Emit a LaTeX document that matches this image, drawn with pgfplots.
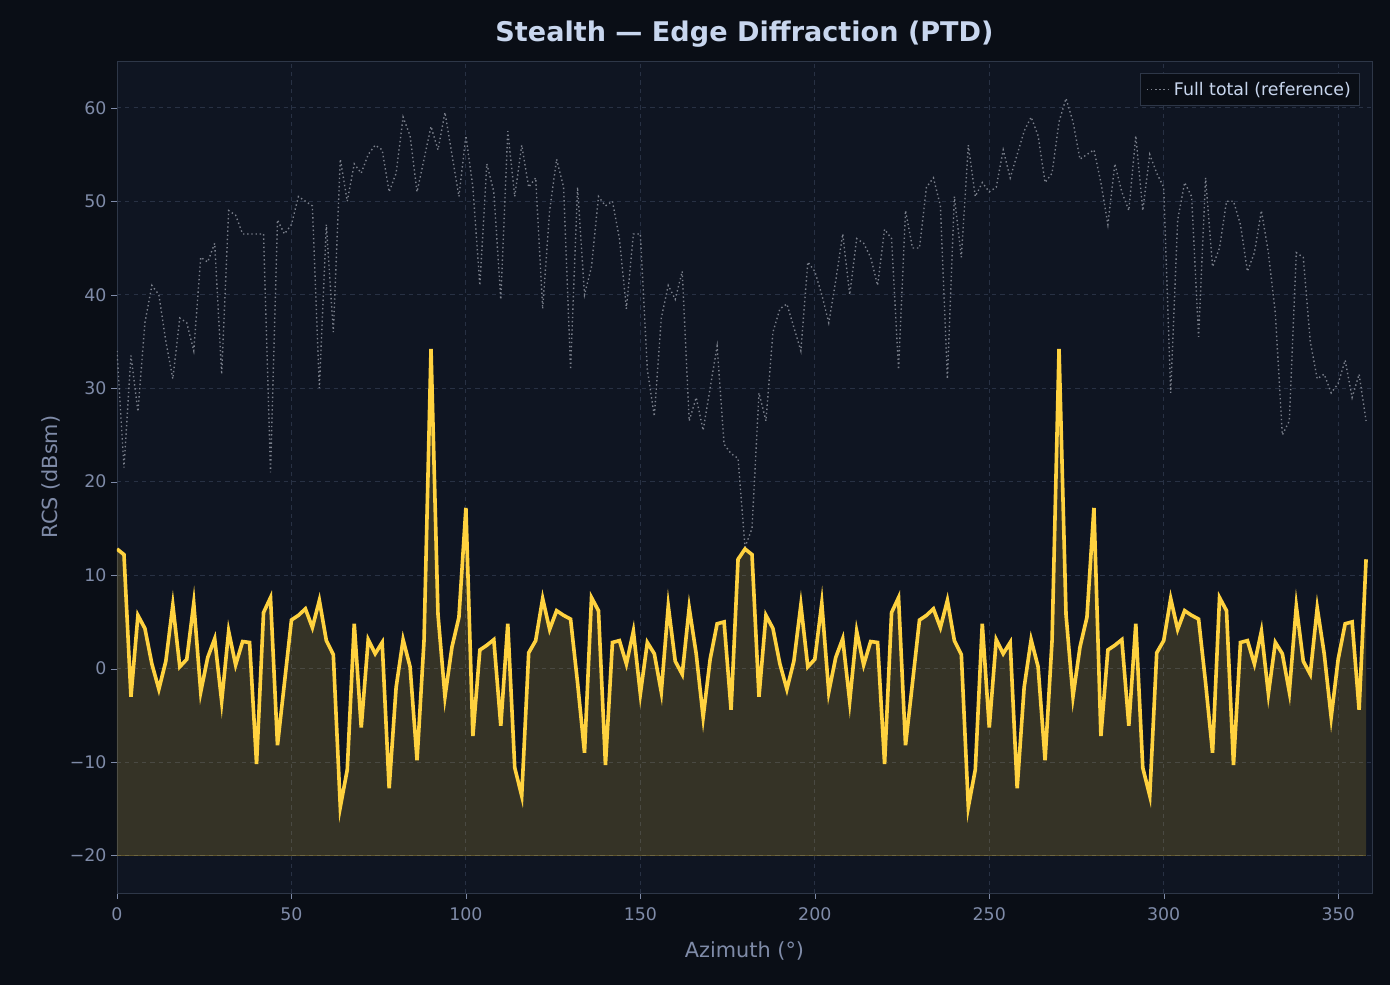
\documentclass[border=0pt]{standalone}
\usepackage{pgfplots}
\pgfplotsset{compat=1.18}
\usepgfplotslibrary{fillbetween}
\usepackage{fontspec}
\setmainfont{DejaVu Sans}
\definecolor{figbg}{HTML}{0A0E16}
\definecolor{axbg}{HTML}{0F1522}
\definecolor{yel}{HTML}{FFD23F}
\definecolor{gridc}{HTML}{283144}
\definecolor{spinec}{HTML}{2E3748}
\definecolor{tickc}{HTML}{7F8BA8}
\definecolor{titc}{HTML}{C8D6EE}
\definecolor{refc}{HTML}{7C818D}
\pagecolor{figbg}
\begin{document}
\begin{tikzpicture}
\path (-84.24pt,-66.24pt) rectangle (916.56pt,642.96pt);
\begin{axis}[
  at={(0,0)}, anchor=south west, scale only axis,
  width=903.6pt, height=599.04pt,
  xmin=0, xmax=359.7, ymin=-24, ymax=65,
  axis background/.style={fill=axbg},
  axis line style={draw=spinec},
  xtick={0,50,...,350}, ytick={-20,-10,...,60},
  yticklabels={−20,−10,0,10,20,30,40,50,60},
  tick pos=left,
  tick style={draw=tickc}, tick align=outside,
  major tick length=4pt,
  ticklabel style={font=\fontsize{12.5}{14}\selectfont, text=tickc},
  xticklabel style={yshift=-3pt},
  /pgf/number format/assume math mode=true,
  grid=major, grid style={dashed, draw=gridc, line width=0.7pt},
  xlabel={Azimuth (°)}, ylabel={RCS (dBsm)},
  xlabel style={yshift=-8pt},
  label style={font=\fontsize{15}{17}\selectfont, text=tickc},
  title={\bfseries Stealth — Edge Diffraction (PTD)},
  title style={font=\fontsize{19.5}{22}\selectfont, text=titc, yshift=0pt},
  legend style={at={(0.99,0.985)}, anchor=north east, fill=figbg, draw=spinec,
    text=titc, font=\fontsize{12.5}{14}\selectfont, row sep=2pt, inner sep=4pt},
  legend cell align=left,
]
\addplot[refc, dotted, line width=1pt] coordinates {
(0,34)(2,21.5)(4,33.5)(6,27.5)(8,37)(10,41)(12,40)(14,35)(16,31)(18,37.5)(20,37)(22,34)(24,44)(26,43.5)(28,45.5)(30,31.5)(32,49)(34,48.5)(36,46.5)(38,46.5)(40,46.5)(42,46.5)(44,21)(46,48)(48,46.5)(50,47.5)(52,50.5)(54,50)(56,49.5)(58,30)(60,47.5)(62,36)(64,54.5)(66,50)(68,54)(70,53)(72,55)(74,56)(76,55.5)(78,51)(80,53)(82,59)(84,57)(86,51)(88,54.5)(90,58)(92,55.5)(94,59.5)(96,55)(98,50.5)(100,57)(102,51.5)(104,41)(106,54)(108,51)(110,39.5)(112,57.5)(114,50.5)(116,56)(118,51.5)(120,52.5)(122,38.5)(124,49)(126,54.5)(128,51.5)(130,32)(132,51.5)(134,40)(136,43)(138,50.5)(140,49.5)(142,50)(144,46)(146,38.5)(148,46.5)(150,46.5)(152,32)(154,27)(156,37.5)(158,41)(160,39.5)(162,42.5)(164,26.5)(166,29)(168,25.5)(170,30)(172,34.5)(174,24)(176,23)(178,22.5)(180,13)(182,15)(184,29.5)(186,26.5)(188,36)(190,38.5)(192,39)(194,36.5)(196,34)(198,43.5)(200,42.5)(202,40)(204,37)(206,41.5)(208,46.5)(210,40)(212,46)(214,45.5)(216,44)(218,41)(220,47)(222,46)(224,32)(226,49)(228,45)(230,45)(232,51.5)(234,52.5)(236,49.5)(238,31)(240,50.5)(242,44)(244,56)(246,50.5)(248,52)(250,51)(252,51.5)(254,55.5)(256,52.5)(258,55)(260,57.5)(262,59)(264,57)(266,52)(268,53)(270,58.5)(272,61)(274,58.5)(276,54.5)(278,55)(280,55.5)(282,52)(284,47.5)(286,54)(288,51)(290,49)(292,57)(294,49)(296,55)(298,53)(300,51.5)(302,29.5)(304,48)(306,52)(308,50.5)(310,35.5)(312,52.5)(314,43)(316,45)(318,50)(320,50)(322,47.5)(324,42.5)(326,44.5)(328,49)(330,44.5)(332,38)(334,25)(336,26.5)(338,44.5)(340,44)(342,35)(344,31)(346,31.5)(348,29.5)(350,30.5)(352,33)(354,29)(356,31.5)(358,26.5)
};
\addlegendentry{Full total (reference)}
\addplot[yel, line width=2.6pt, name path=Y, forget plot] coordinates {
(0,12.8)(2,12.2)(4,-3)(6,5.7)(8,4.3)(10,0.5)(12,-2.2)(14,0.8)(16,6.8)(18,0.2)(20,1)(22,7)(24,-2.5)(26,1.2)(28,3.2)(30,-3.5)(32,4)(34,0.4)(36,2.9)(38,2.8)(40,-10.2)(42,6)(44,7.6)(46,-8.2)(48,-1.5)(50,5.2)(52,5.7)(54,6.4)(56,4.4)(58,7.3)(60,3)(62,1.5)(64,-14.8)(66,-10.8)(68,4.8)(70,-6.3)(72,3.1)(74,1.6)(76,2.8)(78,-12.8)(80,-2)(82,3.1)(84,0.2)(86,-9.8)(88,3)(90,34.2)(92,5.8)(94,-3)(96,2.3)(98,5.5)(100,17.2)(102,-7.2)(104,2)(106,2.5)(108,3.1)(110,-6.1)(112,4.8)(114,-10.6)(116,-13.6)(118,1.7)(120,3)(122,7.5)(124,4.2)(126,6.2)(128,5.7)(130,5.3)(132,-1.5)(134,-9)(136,7.6)(138,6.2)(140,-10.3)(142,2.8)(144,3)(146,0.5)(148,4)(150,-2.7)(152,2.8)(154,1.6)(156,-2.5)(158,6.7)(160,0.8)(162,-0.6)(164,6.5)(166,1.6)(168,-5.2)(170,1)(172,4.8)(174,5)(176,-4.4)(178,11.7)
(180,12.8)(182,12.2)(184,-3)(186,5.7)(188,4.3)(190,0.5)(192,-2.2)(194,0.8)(196,6.8)(198,0.2)(200,1)(202,7)(204,-2.5)(206,1.2)(208,3.2)(210,-3.5)(212,4)(214,0.4)(216,2.9)(218,2.8)(220,-10.2)(222,6)(224,7.6)(226,-8.2)(228,-1.5)(230,5.2)(232,5.7)(234,6.4)(236,4.4)(238,7.3)(240,3)(242,1.5)(244,-14.8)(246,-10.8)(248,4.8)(250,-6.3)(252,3.1)(254,1.6)(256,2.8)(258,-12.8)(260,-2)(262,3.1)(264,0.2)(266,-9.8)(268,3)(270,34.2)(272,5.8)(274,-3)(276,2.3)(278,5.5)(280,17.2)(282,-7.2)(284,2)(286,2.5)(288,3.1)(290,-6.1)(292,4.8)(294,-10.6)(296,-13.6)(298,1.7)(300,3)(302,7.5)(304,4.2)(306,6.2)(308,5.7)(310,5.3)(312,-1.5)(314,-9)(316,7.6)(318,6.2)(320,-10.3)(322,2.8)(324,3)(326,0.5)(328,4)(330,-2.7)(332,2.8)(334,1.6)(336,-2.5)(338,6.7)(340,0.8)(342,-0.6)(344,6.5)(346,1.6)(348,-5.2)(350,1)(352,4.8)(354,5)(356,-4.4)(358,11.7)
};
\addplot[draw=yel, draw opacity=0.25, name path=B, forget plot] coordinates {(0,-20)(358,-20)};
\addplot[yel, fill opacity=0.16, draw=none, forget plot] fill between[of=Y and B];
\end{axis}
\end{tikzpicture}
\end{document}
